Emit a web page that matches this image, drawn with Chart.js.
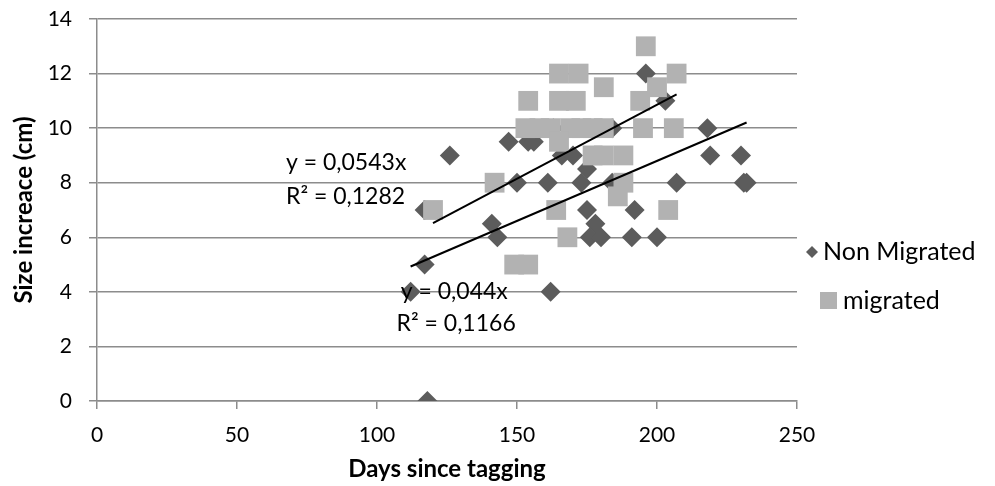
<!DOCTYPE html>
<html>
<head>
<meta charset="utf-8">
<script src="https://cdn.jsdelivr.net/npm/chart.js@4.4.1/dist/chart.umd.min.js"></script>
<style>
html,body{margin:0;padding:0;background:#fff;}
#wrap{width:995px;height:486px;position:relative;}
</style>
</head>
<body>
<div id="wrap"><canvas id="c" width="995" height="486"></canvas></div>
<script>
// ---- data ----
const nonMigratedX = [118,112,117,117,126,141,143,147,150,154,156,161,162,163,166,170,173,175,175,178,176,180,191,200,192,207,184,184,196,203,218,219,230,231,232];
const nonMigratedY = [0,4,5,7,9,6.5,6,9.5,8,9.5,9.5,8,4,10,9,9,8,8.5,7,6.5,6,6,6,6,7,8,10,8,12,11,10,9,9,8,8];
const migratedX = [120,142,149,154,153,158,162,169,173,177,181,154,165,171,165,172,165,164,168,196,207,200,181,194,195,206,177,181,188,188,186,204];
const migratedY = [7,8,5,5,10,10,10,10,10,10,10,11,11,11,12,12,9.5,7,6,13,12,11.5,11.5,11,10,10,9,9,9,8,7.5,7];
const slopeNonMigrated = 0.044;
const slopeMigrated = 0.0543;
const eqNonMigrated = ["y = 0,044x", "R² = 0,1166"];
const eqMigrated = ["y = 0,0543x", "R² = 0,1282"];
const seriesNames = ["Non Migrated", "migrated"];
const xTitle = "Days since tagging";
const yTitle = "Size increace (cm)";

const toPts = (xs, ys) => xs.map((x, i) => ({x, y: ys[i]}));
const trend = (xs, k) => {
  const lo = Math.min(...xs), hi = Math.max(...xs);
  return [{x: lo, y: k * lo}, {x: hi, y: k * hi}];
};

const DARK = '#5c5c5c', LIGHT = '#b2b2b2', GRID = '#8c8c8c';
const FONT = 'Lato, "Open Sans", sans-serif';

const overlay = {
  id: 'overlay',
  afterDraw(chart) {
    const ctx = chart.ctx, xs = chart.scales.x, ys = chart.scales.y;
    ctx.save();
    ctx.fillStyle = '#000';
    ctx.font = '23px ' + FONT;
    ctx.textBaseline = 'middle';
    ctx.textAlign = 'left';
    // equation labels, anchored in data coordinates
    ctx.fillText(eqMigrated[0], xs.getPixelForValue(67.5), ys.getPixelForValue(8.72));
    ctx.fillText(eqMigrated[1], xs.getPixelForValue(67.5), ys.getPixelForValue(7.5));
    ctx.fillText(eqNonMigrated[0], xs.getPixelForValue(108.5), ys.getPixelForValue(4.0));
    ctx.fillText(eqNonMigrated[1], xs.getPixelForValue(107), ys.getPixelForValue(2.83));
    // legend
    ctx.font = '25px ' + FONT;
    const lx = 812;
    ctx.fillStyle = DARK;
    ctx.beginPath();
    ctx.moveTo(lx - 6, 252); ctx.lineTo(lx, 246); ctx.lineTo(lx + 6, 252); ctx.lineTo(lx, 258); ctx.closePath();
    ctx.fill();
    ctx.fillStyle = LIGHT;
    ctx.fillRect(820, 292, 17, 17);
    ctx.fillStyle = '#000';
    ctx.fillText(seriesNames[0], 823, 252);
    ctx.fillText(seriesNames[1], 843, 301);
    ctx.restore();
  }
};

new Chart(document.getElementById('c'), {
  type: 'scatter',
  data: {
    datasets: [
      {label: seriesNames[0], data: toPts(nonMigratedX, nonMigratedY), order: 2,
       pointStyle: 'rectRot', pointRadius: 10, pointHoverRadius: 10,
       backgroundColor: DARK, borderColor: DARK, borderWidth: 0},
      {label: seriesNames[1], data: toPts(migratedX, migratedY), order: 1,
       pointStyle: 'rect', pointRadius: 14, pointHoverRadius: 14,
       backgroundColor: LIGHT, borderColor: LIGHT, borderWidth: 0},
      {label: 'trendNM', type: 'line', data: trend(nonMigratedX, slopeNonMigrated), order: 0,
       borderColor: '#000', borderWidth: 2, pointRadius: 0, fill: false},
      {label: 'trendM', type: 'line', data: trend(migratedX, slopeMigrated), order: 0,
       borderColor: '#000', borderWidth: 2, pointRadius: 0, fill: false}
    ]
  },
  options: {
    responsive: false,
    animation: false,
    events: [],
    layout: {padding: {top: 19, right: 198, left: 0, bottom: 0}},
    plugins: {legend: {display: false}, tooltip: {enabled: false}},
    scales: {
      x: {
        type: 'linear', min: 0, max: 250,
        ticks: {stepSize: 50, color: '#000', font: {family: FONT, size: 21}, padding: 14},
        grid: {display: true, drawOnChartArea: false, color: GRID, tickLength: 8, lineWidth: 1.5},
        border: {display: true, color: GRID, width: 1.5},
        title: {display: true, text: xTitle, color: '#000', font: {family: FONT, size: 24, weight: 'bold'}, padding: {top: 0, bottom: 2}},
        afterFit(s) { s.height = 85; }
      },
      y: {
        min: 0, max: 14,
        ticks: {stepSize: 2, color: '#000', font: {family: FONT, size: 21}, padding: 17},
        grid: {color: GRID, tickLength: 8, lineWidth: 1.5},
        border: {display: true, color: GRID, width: 1.5},
        title: {display: true, text: yTitle, color: '#000', font: {family: FONT, size: 24, weight: 'bold'}, padding: {top: 10, bottom: 0}},
        afterFit(s) { s.width = 97; s.paddingTop = 0; s.paddingBottom = 0; }
      }
    }
  },
  plugins: [overlay]
});
</script>
</body>
</html>
